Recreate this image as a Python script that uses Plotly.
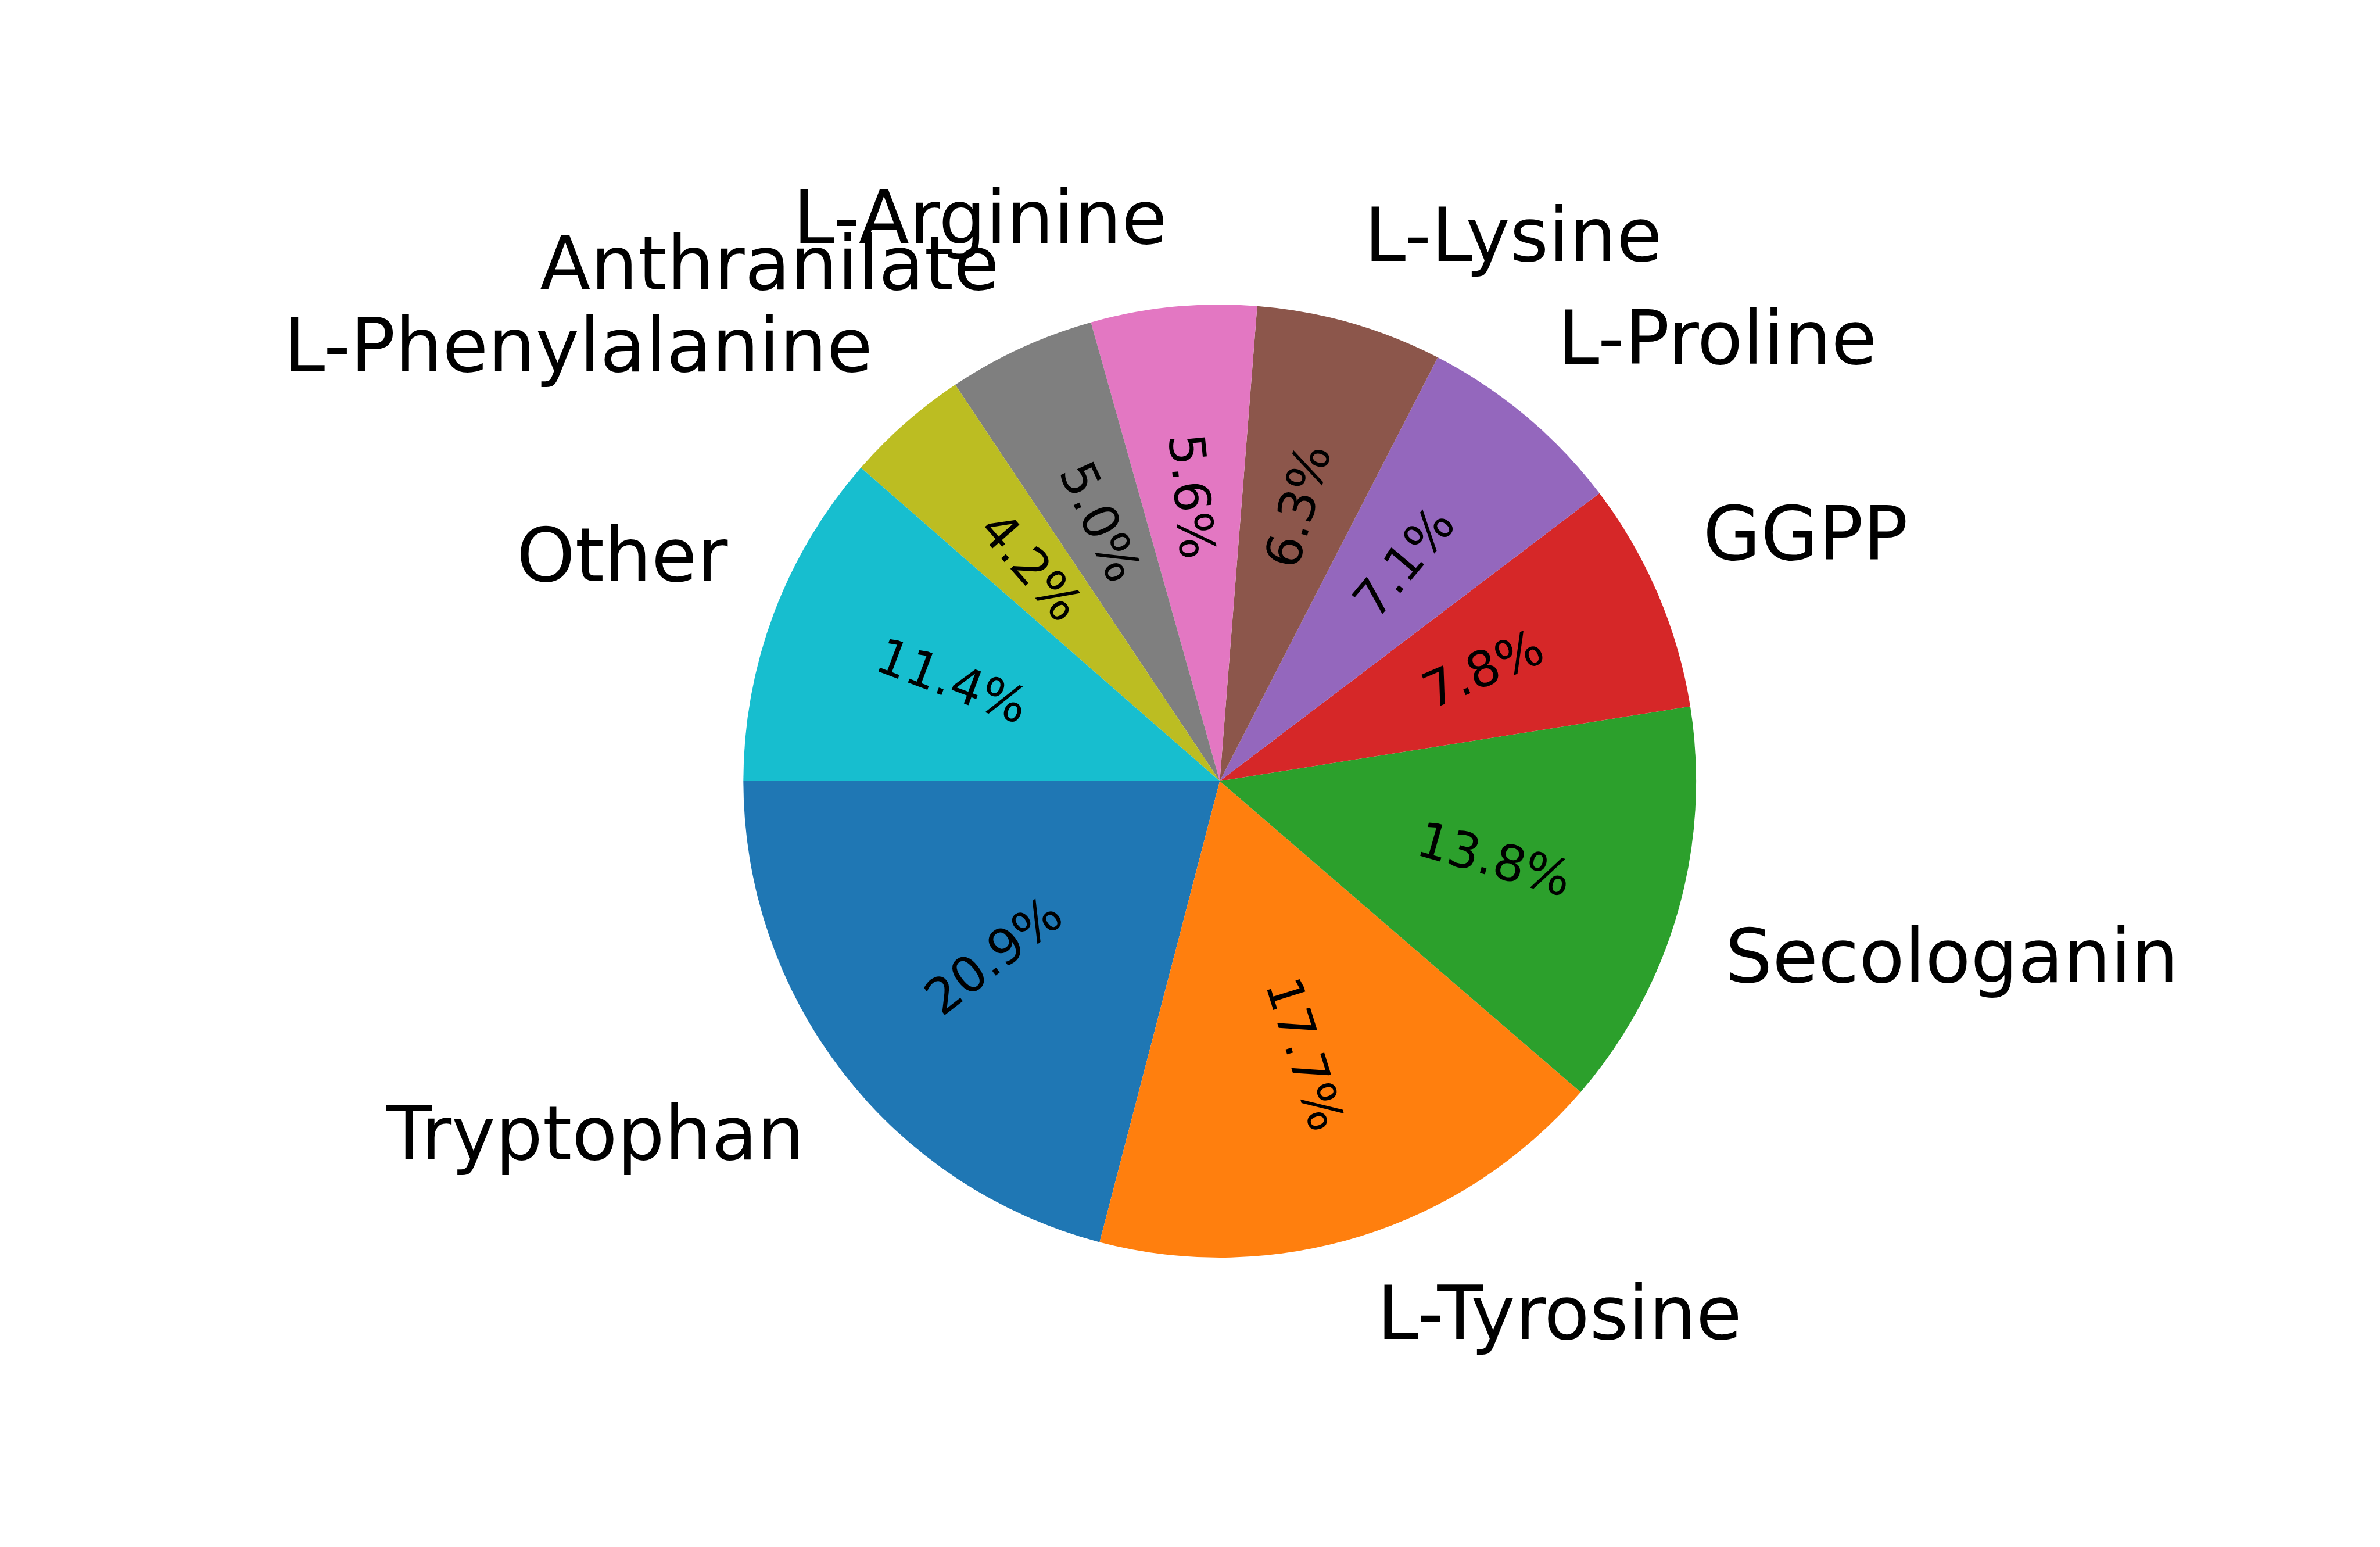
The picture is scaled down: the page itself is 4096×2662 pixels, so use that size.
import math
import plotly.graph_objects as go

# ---- data ----
labels = ["Tryptophan", "L-Tyrosine", "Secologanin", "GGPP", "L-Proline",
          "L-Lysine", "L-Arginine", "Anthranilate", "L-Phenylalanine", "Other"]
values = [20.9, 17.7, 13.8, 7.8, 7.1, 6.3, 5.6, 5.0, 4.2, 11.4]
colors = ["#1f77b4", "#ff7f0e", "#2ca02c", "#d62728", "#9467bd",
          "#8c564b", "#e377c2", "#7f7f7f", "#bcbd22", "#17becf"]

# ---- layout geometry (pixels in the 4096x2662 window) ----
W, H = 4096, 2662
CX, CY, R = 2099.2, 1344.0, 819.9
FONT = "DejaVu Sans"
LABEL_SIZE = 128
PCT_SIZE = 85
START_DEG = 180.0  # first wedge starts at 9 o'clock, counterclockwise

total = sum(values)
dom_x = [(CX - R) / W, (CX + R) / W]
dom_y = [(H - CY - R) / H, (H - CY + R) / H]

# plotly (counterclockwise) places the first slice clockwise of `rotation`,
# so point rotation at the far edge of the first slice
rotation = -90.0 - 360.0 * values[0] / total

fig = go.Figure(go.Pie(
    labels=labels, values=values, sort=False, direction="counterclockwise",
    rotation=rotation, textinfo="none", hoverinfo="label+percent",
    marker=dict(colors=colors, line=dict(width=0)),
    domain=dict(x=dom_x, y=dom_y), showlegend=False,
))

annotations = []
cum = 0.0
for lab, v in zip(labels, values):
    frac_mid = (cum + v / 2.0) / total
    cum += v
    theta = math.radians(START_DEG + 360.0 * frac_mid)
    c, s = math.cos(theta), math.sin(theta)

    # outer label (matplotlib style: labeldistance 1.1)
    xt = CX + 1.1 * R * c
    yt = CY - 1.1 * R * s
    if s > 0:
        baseline = yt - 0.213 * LABEL_SIZE
    else:
        baseline = yt + 0.774 * LABEL_SIZE
    ymid = baseline - 0.346 * LABEL_SIZE
    annotations.append(dict(
        x=xt / W, y=1 - ymid / H, xref="paper", yref="paper",
        text=lab, showarrow=False,
        xanchor="left" if c > 0 else "right", yanchor="middle",
        font=dict(family=FONT, size=LABEL_SIZE, color="black"),
    ))

    # percentage label (pctdistance 0.6, rotated radially)
    deg = math.degrees(theta) % 360.0
    if deg > 180:
        deg -= 360
    if deg > 90:
        deg -= 180
    elif deg < -90:
        deg += 180
    xp = CX + 0.6 * R * c
    yp = CY - 0.6 * R * s
    annotations.append(dict(
        x=xp / W, y=1 - yp / H, xref="paper", yref="paper",
        text="%.1f%%" % (100.0 * v / total), showarrow=False,
        xanchor="center", yanchor="middle", textangle=-deg,
        font=dict(family=FONT, size=PCT_SIZE, color="black"),
    ))

fig.update_layout(
    width=W, height=H, margin=dict(l=0, r=0, t=0, b=0),
    paper_bgcolor="white", plot_bgcolor="white",
    annotations=annotations,
)
fig.write_html("out.html")
